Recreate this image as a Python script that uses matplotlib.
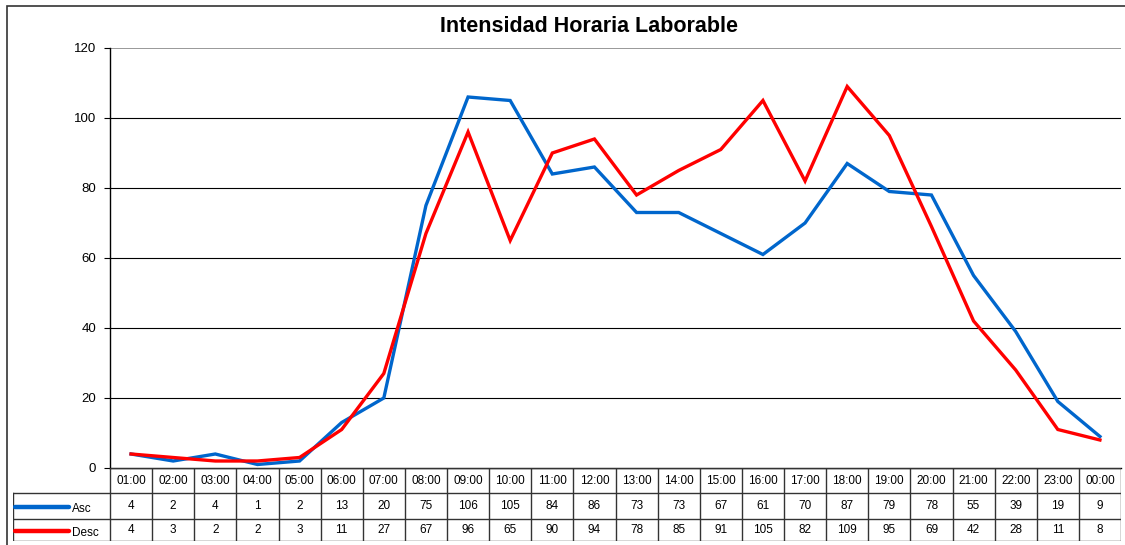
import matplotlib.pyplot as plt
from matplotlib.patches import Rectangle
import numpy as np

plt.rcParams['font.family'] = ['Liberation Sans', 'DejaVu Sans']

hours = ['01:00', '02:00', '03:00', '04:00', '05:00', '06:00', '07:00', '08:00',
         '09:00', '10:00', '11:00', '12:00', '13:00', '14:00', '15:00', '16:00',
         '17:00', '18:00', '19:00', '20:00', '21:00', '22:00', '23:00', '00:00']
asc = [4, 2, 4, 1, 2, 13, 20, 75, 106, 105, 84, 86, 73, 73, 67, 61, 70, 87, 79, 78, 55, 39, 19, 9]
desc = [4, 3, 2, 2, 3, 11, 27, 67, 96, 65, 90, 94, 78, 85, 91, 105, 82, 109, 95, 69, 42, 28, 11, 8]
series = [('Asc', asc, '#0066CC'), ('Desc', desc, '#FF0000')]

W, H = 1125, 545
fig = plt.figure(figsize=(W / 100, H / 100), dpi=100)

def fbox(x0, y0, x1, y1):
    return [x0 / W, 1 - y1 / H, (x1 - x0) / W, (y1 - y0) / H]

# outer frame (right and bottom edges fall outside the image)
fig.patches.append(Rectangle((7 / W, -0.02), 1.0, 1.02 - 6 / H, transform=fig.transFigure,
                             fill=False, edgecolor='#333333', linewidth=1.2))

px_left, px_right, px_top, px_bot = 110, 1121, 48, 468
ax = fig.add_axes(fbox(px_left, px_top, px_right, px_bot))
x = np.arange(len(hours))
for name, vals, col in series:
    ax.plot(x, vals, color=col, linewidth=2.4, solid_joinstyle='miter')
ax.set_xlim(-0.5, len(hours) - 0.5)
ax.set_ylim(0, 120)
ax.set_yticks(range(0, 121, 20))
ax.tick_params(axis='y', labelsize=9.5, length=4, direction='out', pad=6)
ax.set_xticks([])
for v in range(20, 101, 20):
    ax.axhline(v, color='black', linewidth=0.8, zorder=0)
ax.axhline(120, color='#888888', linewidth=1.2, zorder=0)
for s in ['top', 'right']:
    ax.spines[s].set_visible(False)
ax.spines['left'].set_linewidth(1.0)
ax.spines['bottom'].set_linewidth(1.0)

fig.text(589 / W, 1 - 26 / H, 'Intensidad Horaria Laborable', ha='center', va='center',
         fontsize=15.5, fontweight='bold')

# data table
cell = (px_right - px_left) / len(hours)
lead = (px_left - 13) / cell
tab = fig.add_axes(fbox(13, 468, px_right, 541))
tab.set_xlim(-0.5 - lead, len(hours) - 0.5)
row_h = [0, 25, 51, 73]
tab.set_ylim(row_h[-1], 0)
tab.axis('off')
lc = '#333333'
# horizontal lines
tab.plot([-0.5, len(hours) - 0.5], [row_h[0]] * 2, color=lc, lw=1)
for r in row_h[1:]:
    tab.plot([-0.5 - lead, len(hours) - 0.5], [r] * 2, color=lc, lw=1)
# vertical lines
for i in range(len(hours) + 1):
    tab.plot([i - 0.5] * 2, [row_h[0], row_h[-1]], color=lc, lw=1)
tab.plot([-0.5 - lead] * 2, [row_h[1], row_h[-1]], color=lc, lw=1)
for i, hname in enumerate(hours):
    tab.text(i, (row_h[0] + row_h[1]) / 2, hname, ha='center', va='center', fontsize=8.5)
for k, (name, vals, col) in enumerate(series):
    yc = (row_h[k + 1] + row_h[k + 2]) / 2
    for i, v in enumerate(vals):
        tab.text(i, yc, str(v), ha='center', va='center', fontsize=8.5)
    x0 = -0.5 - lead + 2 / cell
    tab.plot([x0, x0 + 54 / cell], [yc + 1, yc + 1], color=col, lw=3.2, solid_capstyle='round')
    tab.text(x0 + 57 / cell, yc + 3, name, ha='left', va='center', fontsize=8.5)

fig.savefig('out.png', dpi=100)
